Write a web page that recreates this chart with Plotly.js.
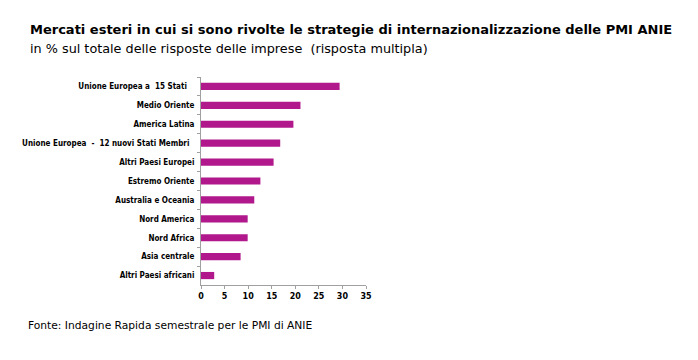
<!DOCTYPE html>
<html><head><meta charset="utf-8">
<script src="https://cdn.plot.ly/plotly-3.0.1.min.js"></script>
<style>html,body{margin:0;padding:0;background:#fff}#chart{width:698px;height:360px}</style>
</head><body><div id="chart"></div>
<script>
var categories = ["Unione Europea a  15 Stati\u00a0\u00a0\u00a0","Medio Oriente","America Latina","Unione Europea  -  12 nuovi Stati Membri\u00a0\u00a0","Altri Paesi Europei","Estremo Oriente","Australia e Oceania","Nord America","Nord Africa","Asia centrale","Altri Paesi africani"];
var values = [29.4, 21.1, 19.6, 16.8, 15.4, 12.6, 11.3, 9.9, 9.9, 8.4, 2.8];
var tickVals = [0,5,10,15,20,25,30,35];

var trace = {
  type: 'bar', orientation: 'h',
  x: values, y: categories,
  marker: {color: '#b0188c'},
  hoverinfo: 'none'
};
var L = 201, PW = 165, PH = 208;
var layout = {
  width: 698, height: 360,
  margin: {l: 201, r: 332, t: 77, b: 75},
  paper_bgcolor: '#fff', plot_bgcolor: '#fff',
  showlegend: false,
  bargap: 0.62,
  xaxis: {
    range: [0, 35], tickvals: tickVals, ticktext: tickVals.map(String),
    showgrid: false, zeroline: false,
    showline: true, linecolor: '#a0a0a0', linewidth: 1,
    ticks: 'outside', ticklen: 3, tickcolor: '#a0a0a0',
    tickfont: {family: 'DejaVu Sans', size: 8, color: '#000', weight: 'bold'},
    fixedrange: true
  },
  yaxis: {
    autorange: 'reversed', type: 'category',
    showgrid: false, zeroline: false,
    showline: true, linecolor: '#a0a0a0', linewidth: 1,
    ticks: 'outside', ticklen: 3, tickcolor: '#a0a0a0', tickson: 'boundaries',
    tickfont: {family: 'DejaVu Sans Condensed', size: 8, color: '#000', weight: 'bold'},
    ticklabelstandoff: 4,
    fixedrange: true
  },
  annotations: [
    {xref: 'paper', yref: 'paper', x: (28 - L)/PW, y: 1 + 47/PH, xanchor: 'left', yanchor: 'middle', showarrow: false,
     text: '<b>Mercati esteri in cui si sono rivolte le strategie di internazionalizzazione delle PMI ANIE</b>',
     font: {family: 'DejaVu Sans', size: 13, color: '#000'}},
    {xref: 'paper', yref: 'paper', x: (28 - L)/PW, y: 1 + 29/PH, xanchor: 'left', yanchor: 'middle', showarrow: false,
     text: 'in % sul totale delle risposte delle imprese  (risposta multipla)',
     font: {family: 'DejaVu Sans', size: 12.8, color: '#000'}},
    {xref: 'paper', yref: 'paper', x: (26 - L)/PW, y: -40/PH, xanchor: 'left', yanchor: 'middle', showarrow: false,
     text: 'Fonte: Indagine Rapida semestrale per le PMI di ANIE',
     font: {family: 'DejaVu Sans', size: 10.7, color: '#000'}}
  ]
};
Plotly.newPlot('chart', [trace], layout, {displayModeBar: false, staticPlot: true});
</script></body></html>
